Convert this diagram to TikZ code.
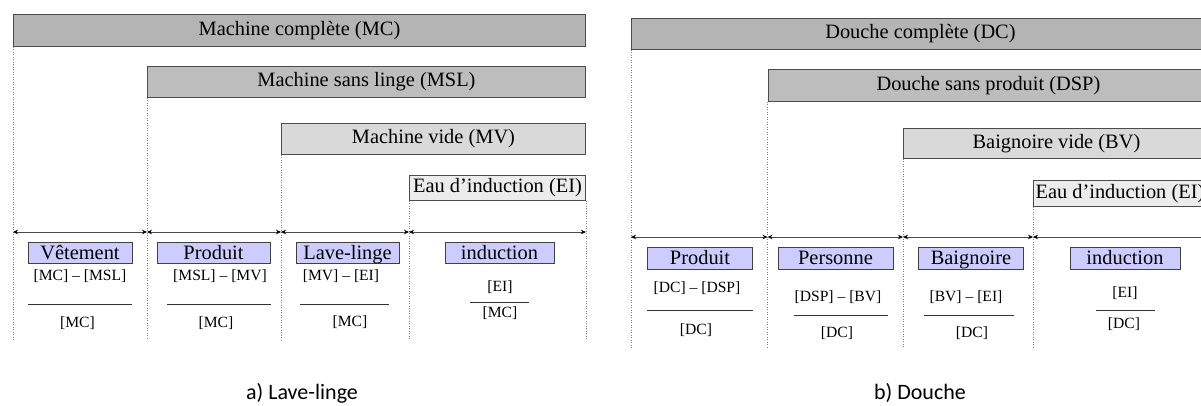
\documentclass[tikz,border=0pt]{standalone}
\usepackage{fontspec}
\setmainfont{Liberation Serif}
\newfontfamily\capfont{Carlito}
\usetikzlibrary{arrows.meta}
\definecolor{barA}{RGB}{180,180,180}
\definecolor{barB}{RGB}{189,189,189}
\definecolor{barC}{RGB}{217,217,217}
\definecolor{barD}{RGB}{236,236,236}
\definecolor{tagfill}{RGB}{204,204,255}

\begin{document}
\begin{tikzpicture}[x=1pt,y=-1pt,
  bar/.style={draw=black!70, line width=0.9pt, anchor=north west, inner sep=1pt, font=\fontsize{20.4}{24}\selectfont},
  tag/.style={draw=black!75, fill=tagfill, line width=0.8pt, inner sep=0pt, text height=17pt, text depth=4pt, minimum height=21pt, font=\fontsize{20.4}{24}\selectfont},
  frac/.style={inner sep=0pt, font=\fontsize{15.6}{18}\selectfont},
  fracbar/.style={black!80, line width=0.7pt},
  guide/.style={black!50, dotted, line width=0.5pt},
  span/.style={black!70, line width=0.8pt, {Stealth[length=5pt,width=4.5pt,color=black]}-{Stealth[length=5pt,width=4.5pt,color=black]}},
  caption/.style={font=\capfont\fontsize{22}{26}\selectfont, anchor=base}]
\useasboundingbox (0,0) rectangle (1201,405);
\clip (0,0) rectangle (1201,405);

\coordinate (lbot) at (0,340);
\coordinate (rbot) at (0,348);
\coordinate (larr) at (0,232);
\coordinate (rarr) at (0,237);

\node[bar, fill=barA, minimum width=572pt, minimum height=32pt] (mc) at (13,14) {Machine complète (MC)};
\node[bar, fill=barB, minimum width=438pt, minimum height=31pt] (msl) at (147,66) {Machine sans linge (MSL)};
\node[bar, fill=barC, minimum width=304pt, minimum height=31pt] (mv) at (281,123) {Machine vide (MV)};
\node[bar, fill=barD, minimum width=176pt, minimum height=25pt] (ei) at (409,175) {Eau d’induction (EI)};

\draw[guide] (mc.south west) -- (mc.south west |- lbot);
\draw[guide] (msl.south west) -- (msl.south west |- lbot);
\draw[guide] (mv.south west) -- (mv.south west |- lbot);
\draw[guide] (ei.south west) -- (ei.south west |- lbot);
\draw[guide] (ei.south east) -- (ei.south east |- lbot);

\draw[span] (mc.south west |- larr) -- (msl.south west |- larr);
\draw[span] (msl.south west |- larr) -- (mv.south west |- larr);
\draw[span] (mv.south west |- larr) -- (ei.south west |- larr);
\draw[span] (ei.south west |- larr) -- (ei.south east |- larr);

\node[tag, minimum width=104pt] (vet) at (80,252.5) {Vêtement};
\node[tag, minimum width=113pt] (prod) at (213.5,252.5) {Produit};
\node[tag, minimum width=103pt] (lav) at (347.5,252.5) {Lave-linge};
\node[tag, minimum width=109pt] (ind) at (499.5,252.5) {induction};

\node[frac] (vetn) at (80,276) {[MC] – [MSL]};
\draw[fracbar] (28,304) -- (132,304);
\node[frac] (vetd) at (77.5,323) {[MC]};
\node[frac] (prodn) at (220,276) {[MSL] – [MV]};
\draw[fracbar] (167,304) -- (271,304);
\node[frac] (prodd) at (216,323) {[MC]};
\node[frac] (lavn) at (341,276) {[MV] – [EI]};
\draw[fracbar] (300,304) -- (389,304);
\node[frac] (lavd) at (350,322) {[MC]};
\node[frac] (indn) at (500,287) {[EI]};
\draw[fracbar] (470,302) -- (529,302);
\node[frac] (indd) at (500,313) {[MC]};

\node[bar, fill=barA, minimum width=578pt, minimum height=31pt] (dc) at (631,18) {Douche complète (DC)};
\node[bar, fill=barB, minimum width=441pt, minimum height=32pt] (dsp) at (767.5,69) {Douche sans produit (DSP)};
\node[bar, fill=barC, minimum width=306pt, minimum height=30pt] (bv) at (903,128) {Baignoire vide (BV)};
\node[bar, fill=barD, minimum width=173pt, minimum height=26pt] (eib) at (1033,180) {Eau d’induction (EI)};

\draw[guide] (dc.south west) -- (dc.south west |- rbot);
\draw[guide] (dsp.south west) -- (dsp.south west |- rbot);
\draw[guide] (bv.south west) -- (bv.south west |- rbot);
\draw[guide] (eib.south west) -- (eib.south west |- rbot);

\draw[span] (dc.south west |- rarr) -- (dsp.south west |- rarr);
\draw[span] (dsp.south west |- rarr) -- (bv.south west |- rarr);
\draw[span] (bv.south west |- rarr) -- (eib.south west |- rarr);
\draw[span] (eib.south west |- rarr) -- (eib.south east |- rarr);

\node[tag, minimum width=105.5pt, minimum height=22pt] (prodb) at (700,258) {Produit};
\node[tag, minimum width=115pt, minimum height=22pt] (pers) at (835.5,258) {Personne};
\node[tag, minimum width=104.5pt, minimum height=22pt] (baig) at (971,258) {Baignoire};
\node[tag, minimum width=110pt, minimum height=22pt] (indb) at (1125,258) {induction};

\node[frac] (prodbn) at (697,288) {[DC] – [DSP]};
\draw[fracbar] (647,310) -- (752.5,310);
\node[frac] (prodbd) at (696,330) {[DC]};
\node[frac] (persn) at (838,297) {[DSP] – [BV]};
\draw[fracbar] (793.5,315) -- (888,315);
\node[frac] (persd) at (837,333) {[DC]};
\node[frac] (baign) at (966,297) {[BV] – [EI]};
\draw[fracbar] (924,315) -- (1014,315);
\node[frac] (baigd) at (972,333) {[DC]};
\node[frac] (indbn) at (1125,293) {[EI]};
\draw[fracbar] (1096,310) -- (1154.5,310);
\node[frac] (indbd) at (1124,324) {[DC]};

\node[caption] (capa) at (302,399) {a) Lave-linge};
\node[caption] (capb) at (920,399) {b) Douche};
\end{tikzpicture}
\end{document}
